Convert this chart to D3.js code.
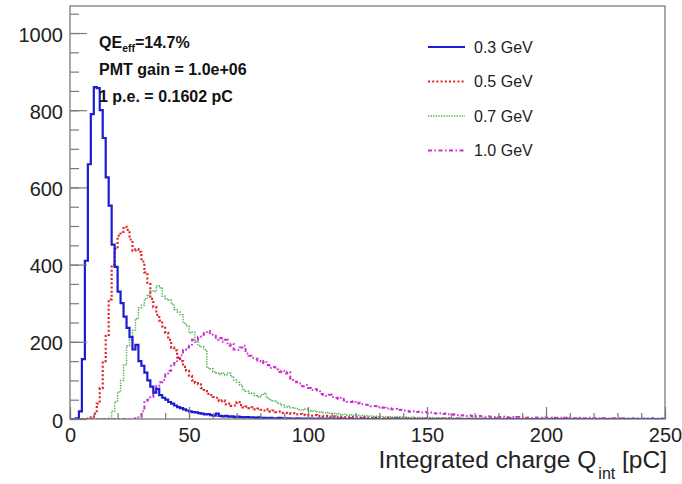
<!DOCTYPE html>
<html>
<head>
<meta charset="utf-8">
<script src="https://cdn.jsdelivr.net/npm/d3@7"></script>
<style>
  body { margin: 0; background: #fff; }
  svg { font-family: "Liberation Sans", Arial, Helvetica, sans-serif; }
</style>
</head>
<body>
<div id="chart"></div>
<script>
// histogram binning: 200 bins of 1.25 pC from 0 to 250 pC
const binWidth = 1.25;
const xDomain = [0, 250];
const yMax = 1070;

const xTicks = [0, 50, 100, 150, 200, 250];
const yTicks = [0, 200, 400, 600, 800, 1000];

const seriesNames = ['0.3 GeV', '0.5 GeV', '0.7 GeV', '1.0 GeV'];

const counts03 = [
  0, 0, 2, 20, 155, 410, 660, 790, 860, 857, 800, 728, 626, 553, 452, 394, 330, 300, 265, 236,
  212, 180, 192, 150, 138, 120, 100, 84, 68, 78, 62, 55, 50, 44, 40, 35, 31, 28, 25, 22,
  20, 18, 17, 15, 14, 12, 13, 10, 9, 14, 8, 7, 8, 6, 7, 5, 6, 5, 4, 5,
  4, 4, 3, 4, 3, 3, 2, 3, 2, 2, 3, 2, 1, 2, 1, 1, 2, 1, 1, 1,
  1, 1, 0, 1, 1, 0, 1, 0, 1, 0, 0, 1, 0, 0, 1, 0, 0, 0, 1, 0,
  0, 0, 1, 0, 0, 0, 0, 0, 0, 1, 0, 0, 0, 0, 0, 0, 0, 0, 0, 0,
  0, 0, 0, 0, 0, 0, 0, 0, 0, 0, 0, 0, 0, 0, 0, 0, 0, 0, 0, 0,
  0, 0, 0, 0, 0, 0, 0, 0, 0, 0, 0, 0, 0, 0, 0, 0, 0, 0, 0, 0,
  0, 0, 0, 0, 0, 0, 0, 0, 0, 0, 0, 0, 0, 0, 0, 0, 0, 0, 0, 0,
  0, 0, 0, 0, 0, 0, 0, 0, 0, 0, 0, 0, 0, 0, 0, 0, 0, 0, 0, 0,
];

const counts05 = [
  0, 0, 0, 0, 0, 0, 1, 4, 14, 40, 80, 150, 215, 310, 400, 440, 475, 485, 498, 490,
  465, 436, 440, 433, 408, 380, 353, 311, 290, 270, 255, 240, 223, 205, 185, 178, 160, 150, 135, 125,
  112, 100, 93, 90, 80, 72, 65, 62, 57, 55, 46, 48, 38, 40, 34, 35, 44, 36, 30, 32,
  28, 30, 25, 27, 24, 22, 25, 20, 22, 18, 19, 16, 16, 15, 14, 15, 12, 13, 11, 10,
  10, 9, 10, 8, 8, 7, 8, 6, 7, 5, 6, 5, 5, 4, 5, 4, 4, 3, 4, 3,
  3, 2, 3, 3, 2, 2, 3, 2, 2, 1, 2, 2, 1, 2, 1, 1, 2, 1, 1, 2,
  1, 1, 0, 1, 1, 0, 1, 1, 0, 1, 0, 1, 0, 0, 1, 0, 1, 0, 0, 1,
  0, 1, 0, 0, 1, 0, 0, 0, 1, 0, 0, 0, 0, 1, 0, 0, 0, 0, 0, 1,
  0, 0, 0, 1, 0, 0, 0, 0, 0, 0, 1, 0, 0, 0, 0, 0, 0, 0, 0, 0,
  0, 0, 0, 0, 1, 0, 0, 0, 0, 0, 0, 0, 0, 0, 0, 0, 0, 0, 0, 0,
];

const counts07 = [
  0, 0, 0, 0, 0, 0, 0, 0, 0, 0, 0, 0, 0, 2, 20, 45, 70, 100, 140, 190,
  205, 230, 260, 288, 295, 311, 322, 332, 330, 345, 340, 318, 311, 308, 298, 283, 277, 270, 249, 241,
  223, 225, 200, 190, 187, 179, 132, 130, 122, 119, 115, 119, 114, 119, 110, 101, 95, 88, 75, 72,
  67, 66, 60, 57, 62, 67, 55, 49, 47, 44, 40, 36, 31, 33, 29, 28, 27, 24, 23, 26,
  22, 20, 21, 18, 19, 16, 17, 15, 14, 13, 14, 11, 12, 10, 11, 9, 10, 8, 9, 8,
  7, 8, 7, 6, 7, 6, 5, 6, 5, 5, 6, 4, 5, 4, 4, 5, 3, 4, 4, 3,
  3, 4, 3, 2, 3, 3, 2, 3, 2, 2, 3, 2, 2, 1, 2, 2, 1, 2, 1, 1,
  2, 1, 1, 2, 1, 1, 1, 0, 1, 1, 1, 0, 1, 1, 0, 1, 1, 0, 1, 0,
  0, 1, 0, 1, 0, 0, 1, 0, 1, 0, 0, 0, 1, 0, 0, 1, 0, 0, 0, 1,
  0, 0, 1, 0, 0, 0, 0, 1, 0, 0, 0, 0, 0, 1, 0, 0, 0, 0, 0, 0,
];

const counts10 = [
  0, 0, 0, 0, 0, 0, 0, 0, 0, 0, 0, 0, 0, 0, 0, 0, 0, 0, 0, 0,
  0, 0, 2, 8, 20, 44, 50, 57, 72, 86, 95, 101, 115, 125, 138, 145, 158, 165, 179, 185,
  190, 205, 200, 213, 218, 223, 228, 222, 218, 205, 210, 200, 205, 190, 195, 180, 179, 185, 190, 170,
  164, 158, 156, 150, 145, 150, 140, 132, 135, 128, 122, 125, 118, 122, 105, 101, 95, 92, 85, 88,
  80, 75, 77, 72, 65, 62, 60, 63, 57, 55, 52, 55, 48, 45, 44, 46, 40, 42, 38, 37,
  36, 33, 34, 30, 31, 29, 27, 28, 25, 26, 23, 24, 22, 21, 19, 20, 18, 19, 17, 18,
  16, 17, 15, 14, 15, 13, 14, 12, 11, 12, 10, 9, 10, 8, 9, 8, 7, 8, 7, 6,
  7, 6, 5, 6, 5, 6, 5, 4, 5, 4, 5, 4, 4, 3, 4, 3, 4, 3, 3, 4,
  3, 3, 2, 3, 3, 2, 3, 2, 3, 2, 2, 3, 2, 2, 3, 2, 2, 2, 1, 2,
  2, 1, 2, 2, 1, 2, 1, 1, 2, 1, 1, 2, 1, 1, 1, 2, 1, 1, 1, 1,
];

const infoLines = ['QE', 'PMT gain = 1.0e+06', '1 p.e. = 0.1602 pC'];

const width = 682;
const height = 484;
const margin = { top: 6, right: 17, bottom: 65, left: 70 };

const svg = d3.select('#chart').append('svg')
  .attr('width', width)
  .attr('height', height);

const x = d3.scaleLinear()
  .domain(xDomain)
  .range([margin.left, width - margin.right]);

const y = d3.scaleLinear()
  .domain([0, yMax])
  .range([height - margin.bottom, margin.top]);

svg.append('clipPath')
  .attr('id', 'plot-clip')
  .append('rect')
  .attr('x', x(0))
  .attr('y', y(yMax))
  .attr('width', x(250) - x(0))
  .attr('height', y(0) - y(yMax));

// step outline like ROOT "HIST"
const stepLine = d3.line()
  .x((d) => x(d[0]))
  .y((d) => y(d[1]))
  .curve(d3.curveStepAfter);

function toSteps(counts) {
  const pts = counts.map((c, i) => [i * binWidth, c]);
  pts.push([counts.length * binWidth, counts[counts.length - 1]]);
  return pts;
}

const series = [
  { name: seriesNames[0], counts: counts03, color: '#1c1cd0', width: 2.2, dash: null },
  { name: seriesNames[1], counts: counts05, color: '#e02424', width: 2.2, dash: '2,2.2' },
  { name: seriesNames[2], counts: counts07, color: '#4fb04f', width: 1.5, dash: '1.3,1.3' },
  { name: seriesNames[3], counts: counts10, color: '#cc33cc', width: 2, dash: '4,2.5,1.5,2.5' },
];

const plot = svg.append('g').attr('clip-path', 'url(#plot-clip)');

// draw in reverse so blue ends on top
plot.selectAll('path.hist')
  .data(series.slice().reverse())
  .join('path')
  .attr('class', 'hist')
  .attr('fill', 'none')
  .attr('stroke', (d) => d.color)
  .attr('stroke-width', (d) => d.width)
  .attr('stroke-dasharray', (d) => d.dash)
  .attr('d', (d) => stepLine(toSteps(d.counts)));

// axes
const axisColor = '#7a7a7a';

const xMinor = svg.append('g')
  .attr('transform', `translate(0,${y(0)})`)
  .call(d3.axisBottom(x).tickValues(d3.range(0, 251, 10)).tickSize(-6).tickFormat(''));

const xMajor = svg.append('g')
  .attr('transform', `translate(0,${y(0)})`)
  .call(d3.axisBottom(x).tickValues(xTicks).tickSize(-12).tickPadding(9).tickFormat(d3.format('d')));

const yMinor = svg.append('g')
  .attr('transform', `translate(${x(0)},0)`)
  .call(d3.axisLeft(y).tickValues(d3.range(0, 1051, 50)).tickSize(-9).tickFormat(''));

const yMajor = svg.append('g')
  .attr('transform', `translate(${x(0)},0)`)
  .call(d3.axisLeft(y).tickValues(yTicks).tickSize(-17).tickPadding(7).tickFormat(d3.format('d')));

[xMinor, xMajor, yMinor, yMajor].forEach((g) => {
  g.select('.domain').remove();
  g.selectAll('line').attr('stroke', axisColor).attr('stroke-width', 1.2);
  g.selectAll('text')
    .attr('font-size', 20)
    .attr('fill', '#222')
    .attr('font-family', '"Liberation Sans", Arial, sans-serif');
});
yMajor.selectAll('text').attr('dy', '0.4em');

// frame
svg.append('rect')
  .attr('x', x(0))
  .attr('y', y(yMax))
  .attr('width', x(250) - x(0))
  .attr('height', y(0) - y(yMax))
  .attr('fill', 'none')
  .attr('stroke', axisColor)
  .attr('stroke-width', 1.3);

// x axis title
const xTitle = svg.append('text')
  .attr('x', x(250) + 2)
  .attr('y', 468)
  .attr('text-anchor', 'end')
  .attr('font-size', 24.5)
  .attr('fill', '#222');
xTitle.append('tspan').text('Integrated charge Q');
xTitle.append('tspan').attr('font-size', 16).attr('dx', 2).attr('dy', 11).text('int');
xTitle.append('tspan').attr('dy', -11).text(' [pC]');

// info text
const info = svg.append('g')
  .attr('font-size', 16)
  .attr('font-weight', 'bold')
  .attr('fill', '#111');
const qe = info.append('text').attr('x', 99).attr('y', 48);
qe.append('tspan').text(infoLines[0]);
qe.append('tspan').attr('font-size', 10.5).attr('dy', 4).text('eff');
qe.append('tspan').attr('dy', -4).text('=14.7%');
info.append('text').attr('x', 99).attr('y', 75).text(infoLines[1]);
info.append('text').attr('x', 99).attr('y', 102).text(infoLines[2]);

// legend
const legend = svg.append('g')
  .selectAll('g')
  .data(series)
  .join('g')
  .attr('transform', (d, i) => `translate(428,${47 + i * 34.5})`);

legend.append('line')
  .attr('x1', 0)
  .attr('x2', 37)
  .attr('stroke', (d) => d.color)
  .attr('stroke-width', (d) => d.width)
  .attr('stroke-dasharray', (d) => d.dash);

legend.append('text')
  .attr('x', 46)
  .attr('dy', '0.36em')
  .attr('font-size', 16)
  .attr('fill', '#222')
  .text((d) => d.name);
</script>
</body>
</html>
